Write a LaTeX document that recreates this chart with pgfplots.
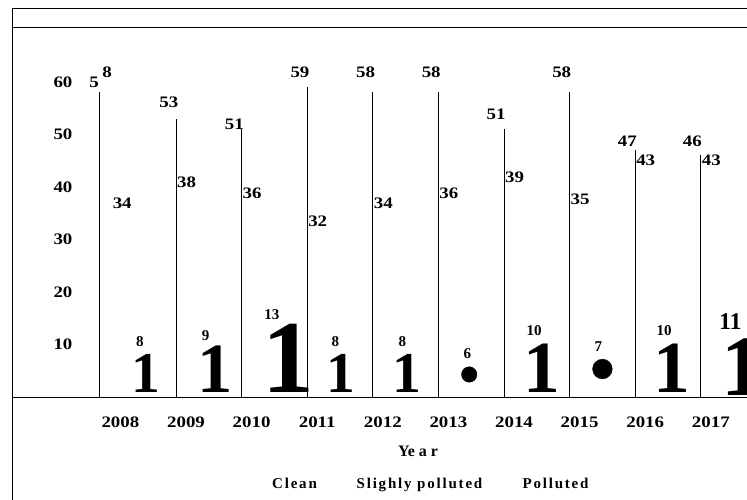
\documentclass[border=0pt]{standalone}
\usepackage{fontspec}
\setmainfont{Liberation Serif}
\newfontfamily\labfont[FakeStretch=1.18]{Liberation Serif}
\newfontfamily\legfont[LetterSpace=12]{Liberation Serif}
\usepackage{pgfplots}
\usepackage{pgfplotstable}
\pgfplotsset{compat=1.18}
\newcommand\labsize{\fontsize{16}{18}\labfont\bfseries}

% Clean (vertical lines)
\pgfplotstableread{
x y
2007.84 58
2009 53
2010 51
2011 59
2012 58
2013 58
2014 51
2015 58
2016 47
2017 46
}\cleandata
% labels of Clean (label centre positions)
\pgfplotstableread{
x y lbl
2007.75 60.0 5
2007.95 61.9 8
2008.89 56.1 53
2009.89 52.0 51
2010.89 61.9 59
2011.89 61.9 58
2012.89 61.9 58
2013.88 53.9 51
2014.88 61.9 58
2015.88 48.8 47
2016.87 48.8 46
}\toplabdata
% Slighly polluted labels
\pgfplotstableread{
x y lbl
2008.18 36.86 34
2009.16 40.86 38
2010.16 38.86 36
2011.16 33.52 32
2012.16 36.95 34
2013.16 38.86 36
2014.16 41.81 39
2015.16 37.71 35
2016.16 45.14 43
2017.16 45.14 43
}\slightdata
% Polluted labels
\pgfplotstableread{
x y lbl
2008.45 10.48 8
2009.45 11.71 9
2010.46 15.62 13
2011.43 10.48 8
2012.45 10.48 8
2013.44 8.29 6
2014.46 12.57 10
2015.44 9.52 7
2016.44 12.57 10
}\pollabdata
\pgfplotstableread{
x y lbl
2017.45 14.29 11
}\pollabbig
% Polluted glyphs, grouped by size
\pgfplotstableread{
x y
2008.54 0.82
2011.52 0.82
2012.52 0.82
}\glyphA
\pgfplotstableread{
x y
2009.60 0.82
}\glyphB
\pgfplotstableread{
x y
2010.71 0.82
}\glyphC
\pgfplotstableread{
x y
2014.57 0.82
2016.56 0.82
}\glyphD
\pgfplotstableread{
x y
2017.64 0.38
}\glyphE
% Polluted dots
\pgfplotstableread{
x y
2013.47 4.29
}\dotA
\pgfplotstableread{
x y
2015.50 5.33
}\dotB

\pgfplotsset{
  labs/.style={only marks, mark=text, text mark={}, point meta=explicit symbolic,
    nodes near coords, nodes near coords style={anchor=center, inner sep=0pt, font=#1}},
  glyph/.style={only marks, mark=text, text mark={}, point meta=explicit symbolic,
    nodes near coords={1}, nodes near coords style={anchor=base, inner sep=0pt, font=\fontsize{#1}{#1}\selectfont\bfseries}},
}

\begin{document}
\begin{tikzpicture}
\begin{axis}[
  scale only axis, width=735pt, height=389pt,
  xmin=6.5, xmax=17.704, ymin=0, ymax=74.095,
  clip mode=individual,
  axis x line=bottom, axis y line=left,
  axis line style={-, line width=0.9pt},
  xtick={8,9,10,11,12,13,14,15,16,17},
  xticklabels={2008,2009,2010,2011,2012,2013,2014,2015,2016,2017},
  ytick={10,20,30,40,50,60},
  yticklabels={10,20,30,40,50,60},
  major tick length=0pt,
  tick style={draw=none},
  xticklabel style={anchor=base, yshift=-30.3pt, xshift=10pt, font=\labsize},
  yticklabel style={anchor=center, xshift=51pt, font=\labsize},
  xlabel={Ye a r},
  xlabel style={at={(axis description cs:0.5524,-0.1542)}, anchor=base, font=\fontsize{16}{18}\selectfont\bfseries},
]
\addplot[ycomb, black, line width=0.9pt, mark=none] table[x expr=\thisrow{x}-2000,y=y]{\cleandata};

\addplot[labs=\labsize] table[x expr=\thisrow{x}-2000,y=y,meta=lbl]{\toplabdata};
\addplot[labs=\labsize] table[x expr=\thisrow{x}-2000,y=y,meta=lbl]{\slightdata};
\addplot[labs={\fontsize{15}{17}\selectfont\bfseries}] table[x expr=\thisrow{x}-2000,y=y,meta=lbl]{\pollabdata};
\addplot[labs={\fontsize{24}{26}\selectfont\bfseries}] table[x expr=\thisrow{x}-2000,y=y,meta=lbl]{\pollabbig};

\addplot[glyph=57.7] table[x expr=\thisrow{x}-2000,y=y]{\glyphA};
\addplot[glyph=70.6] table[x expr=\thisrow{x}-2000,y=y]{\glyphB};
\addplot[glyph=103.5] table[x expr=\thisrow{x}-2000,y=y]{\glyphC};
\addplot[glyph=73.5] table[x expr=\thisrow{x}-2000,y=y]{\glyphD};
\addplot[glyph=86] table[x expr=\thisrow{x}-2000,y=y]{\glyphE};

\addplot[only marks, mark=*, mark size=7.75pt, black] table[x expr=\thisrow{x}-2000,y=y]{\dotA};
\addplot[only marks, mark=*, mark size=9.85pt, black] table[x expr=\thisrow{x}-2000,y=y]{\dotB};

\draw[line width=0.9pt] (rel axis cs:0,1) -- (rel axis cs:1,1);
\draw[line width=0.9pt] (rel axis cs:0,0.9512) -- (rel axis cs:1,0.9512);
\draw[line width=0.9pt] (rel axis cs:0,0) -- ([yshift=-103pt]rel axis cs:0,0);

\node[anchor=base, font=\fontsize{15}{17}\legfont\bfseries] at (axis description cs:0.3844,-0.2365) {Clean};
\node[anchor=base, font=\fontsize{15}{17}\legfont\bfseries] at (axis description cs:0.5544,-0.2365) {Slighly polluted};
\node[anchor=base, font=\fontsize{15}{17}\legfont\bfseries] at (axis description cs:0.7395,-0.2365) {Polluted};

\coordinate (TL) at (rel axis cs:0,1);
\coordinate (BR) at (rel axis cs:1,0);
\end{axis}
\pgfresetboundingbox
\path[use as bounding box] ([shift={(-12pt,8pt)}]TL) rectangle ([shift={(0pt,-103pt)}]BR);
\end{tikzpicture}
\end{document}
